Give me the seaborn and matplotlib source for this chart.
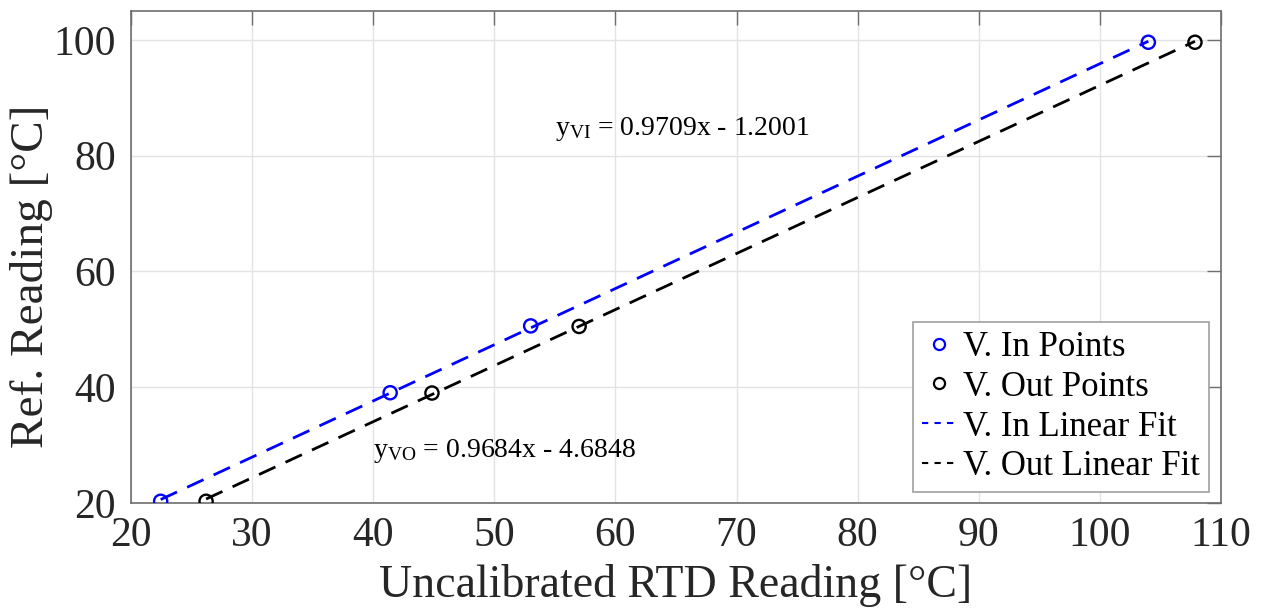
import numpy as np
import pandas as pd
import matplotlib
matplotlib.use("Agg")
import matplotlib.pyplot as plt
import seaborn as sns
from matplotlib.lines import Line2D

# ---- data ----
vin_x = [22.45, 41.4, 53.0, 104.0]
vin_y = [20.3, 39.05, 50.6, 99.6]
vout_x = [26.2, 44.85, 57.0, 107.85]
vout_y = [20.3, 39.0, 50.5, 99.6]
fit_in = (0.9709, -1.2001)
fit_out = (0.9684, -4.6848)
x_ticks = [20, 30, 40, 50, 60, 70, 80, 90, 100, 110]
y_ticks = [20, 40, 60, 80, 100]
legend_labels = ["V. In Points", "V. Out Points", "V. In Linear Fit", "V. Out Linear Fit"]
eq_in = r"y$_{\rm VI}$ = 0.9709x - 1.2001"
eq_out = r"y$_{\rm VO}$ = 0.9684x - 4.6848"

sns.set_theme(style="whitegrid")
plt.rcParams['font.family'] = ['Liberation Serif', 'DejaVu Serif']
plt.rcParams['mathtext.fontset'] = 'custom'
plt.rcParams['mathtext.rm'] = 'Liberation Serif'
plt.rcParams['mathtext.it'] = 'Liberation Serif:italic'

fig = plt.figure(figsize=(12.63, 6.15), dpi=100)
ax = fig.add_axes([131/1263, 1-503/615, 1090/1263, 492/615])

df_in = pd.DataFrame({"x": vin_x, "y": vin_y})
df_out = pd.DataFrame({"x": vout_x, "y": vout_y})

lx_in = np.array([min(vin_x), max(vin_x)])
lx_out = np.array([min(vout_x), max(vout_x)])
df_fit_in = pd.DataFrame({"x": lx_in, "y": fit_in[0]*lx_in + fit_in[1]})
df_fit_out = pd.DataFrame({"x": lx_out, "y": fit_out[0]*lx_out + fit_out[1]})

sns.lineplot(data=df_fit_in, x="x", y="y", ax=ax, color="#0000FF", lw=2.0,
             linestyle=(0, (6.5, 4)), zorder=2)
sns.lineplot(data=df_fit_out, x="x", y="y", ax=ax, color="black", lw=2.0,
             linestyle=(0, (6.5, 4)), zorder=2)
sns.scatterplot(data=df_in, x="x", y="y", ax=ax, marker="o", s=90,
                facecolor="none", edgecolor="#0000FF", linewidth=1.7, zorder=3)
sns.scatterplot(data=df_out, x="x", y="y", ax=ax, marker="o", s=90,
                facecolor="none", edgecolor="black", linewidth=1.7, zorder=3)

ax.set_xlim(20, 110)
ax.set_ylim(20, 105)
ax.set_xticks(x_ticks)
ax.set_yticks(y_ticks)
ax.grid(True, color="#e3e3e3", lw=1.0)
ax.set_facecolor("white")
for s in ax.spines.values():
    s.set_visible(True)
    s.set_color("#6e6e6e")
    s.set_linewidth(1.2)
ax.tick_params(direction="in", length=10, width=1.0, color="#6e6e6e",
               labelsize=30, labelcolor="#262626", top=True, right=True)
ax.tick_params(axis="x", pad=10)
ax.tick_params(axis="y", pad=11)
ax.set_xlabel("Uncalibrated RTD Reading [°C]", fontsize=33, color="#262626", labelpad=6)
ax.set_ylabel("Ref. Reading [°C]", fontsize=34, color="#262626")
ax.yaxis.set_label_coords(-0.072, 0.46)

ax.text(55.0, 84.6, eq_in, fontsize=20, color="black", ha="left", va="center")
ax.text(40.0, 29.0, eq_out, fontsize=20, color="black", ha="left", va="center")

handles = [
    Line2D([], [], marker="o", ls="none", mfc="none", mec="#0000FF", ms=8, mew=1.6),
    Line2D([], [], marker="o", ls="none", mfc="none", mec="black", ms=8, mew=1.6),
    Line2D([], [], color="#0000FF", lw=1.5, ls=(0, (3, 3))),
    Line2D([], [], color="black", lw=1.5, ls=(0, (3, 3))),
]
leg = ax.legend(handles, legend_labels, loc="lower right", bbox_to_anchor=(0.989, 0.022),
                borderaxespad=0, fontsize=25, frameon=True, fancybox=False,
                handlelength=1.0, handletextpad=0.2, labelspacing=0.2,
                borderpad=0.25, edgecolor="#a0a0a0", framealpha=1)
leg.get_frame().set_linewidth(1.2)
for t in leg.get_texts():
    t.set_color("black")

fig.savefig("out.png", dpi=100)
